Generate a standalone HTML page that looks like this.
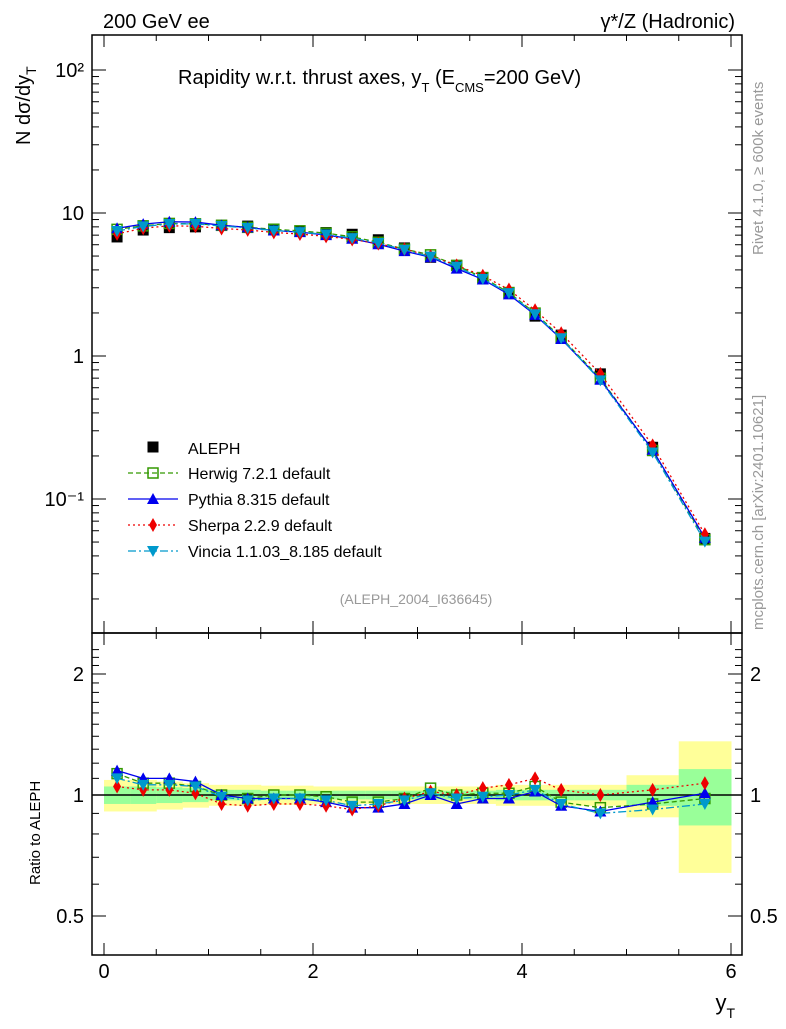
<!DOCTYPE html>
<html><head><meta charset="utf-8"><style>
body{margin:0;background:#fff;width:786px;height:1024px;overflow:hidden}
svg text{font-family:"Liberation Sans",sans-serif}
</style></head><body>
<svg id="c" width="786" height="1024" xmlns="http://www.w3.org/2000/svg"></svg>
<script>
const binEdges=[0,0.25,0.5,0.75,1,1.25,1.5,1.75,2,2.25,2.5,2.75,3,3.25,3.5,3.75,4,4.25,4.5,5,5.5,6];
const aleph=[6.8,7.6,7.9,8.0,8.2,8.1,7.7,7.5,7.3,7.1,6.5,5.7,4.9,4.3,3.5,2.75,1.9,1.4,0.75,0.23,0.053];
const herwigR=[1.13,1.07,1.07,1.05,1.0,0.98,1.0,1.0,0.99,0.96,0.96,0.98,1.04,1.0,1.01,1.01,1.05,0.96,0.93,0.95,0.98];
const pythiaR=[1.15,1.10,1.10,1.08,1.0,0.98,0.98,0.98,0.96,0.93,0.93,0.95,1.0,0.95,0.98,0.98,1.02,0.94,0.91,0.96,1.01];
const sherpaR=[1.05,1.03,1.03,1.01,0.95,0.94,0.95,0.95,0.94,0.92,0.94,0.98,1.02,1.0,1.04,1.06,1.10,1.03,1.0,1.03,1.07];
const vinciaR=[1.10,1.06,1.06,1.05,0.99,0.97,0.98,0.98,0.97,0.94,0.95,0.97,1.01,0.98,0.99,1.0,1.03,0.95,0.90,0.92,0.95];
const yellowErr=[0.09,0.09,0.08,0.07,0.06,0.06,0.055,0.055,0.05,0.05,0.05,0.05,0.05,0.05,0.05,0.06,0.06,0.06,0.06,0.12,0.36];
const greenErr=[0.05,0.05,0.045,0.04,0.03,0.03,0.025,0.025,0.025,0.025,0.025,0.025,0.025,0.025,0.025,0.03,0.03,0.03,0.03,0.06,0.16];
const xTicks=[0,2,4,6];
const mainTicks=[0.1,1,10,100];
const mainTickLabels=["10\u207B\u00B9","1","10","10\u00B2"];
const ratioTicks=[0.5,1,2];

const S=document.getElementById('c'),NS='http://www.w3.org/2000/svg';
function el(t,a,p){const e=document.createElementNS(NS,t);for(const k in a)e.setAttribute(k,a[k]);(p||S).appendChild(e);return e;}
const L=92,R=742,T=35,MB=633,RB=955;
const X=v=>104+v*104.5;
const Ym=v=>356-Math.log10(v)*143;
const Yr=v=>795-Math.log2(v)*121;
const mid=binEdges.slice(0,-1).map((e,i)=>(e+binEdges[i+1])/2);

const gb=el('g',{});
for(let i=0;i<mid.length;i++){
 const x0=X(binEdges[i]),x1=X(binEdges[i+1]);
 let r=el('rect',{x:x0,y:Yr(1+yellowErr[i]),width:x1-x0+0.5,height:Yr(1-yellowErr[i])-Yr(1+yellowErr[i]),fill:'#ffff99'},gb);
 
 r=el('rect',{x:x0,y:Yr(1+greenErr[i]),width:x1-x0+0.5,height:Yr(1-greenErr[i])-Yr(1+greenErr[i]),fill:'#99ff99'},gb);
 
}
el('line',{x1:L,x2:R,y1:Yr(1),y2:Yr(1),stroke:'#000','stroke-width':1.5});

el('rect',{x:L,y:T,width:R-L,height:MB-T,fill:'none',stroke:'#000','stroke-width':1.5});
el('rect',{x:L,y:MB,width:R-L,height:RB-MB,fill:'none',stroke:'#000','stroke-width':1.5});

for(let v=0;v<=6.01;v+=0.5){const big=Math.abs(v-Math.round(v/2)*2)<1e-6;const len=big?12:6;
 for(const [y0,y1] of [[T,MB],[MB,RB]]){el('line',{x1:X(v),x2:X(v),y1:y1,y2:y1-len,stroke:'#000'});el('line',{x1:X(v),x2:X(v),y1:y0,y2:y0+len,stroke:'#000'});}}
xTicks.forEach(v=>{const t=el('text',{x:X(v),y:978,'font-size':20,'text-anchor':'middle'});t.textContent=v;});
for(let d=-2;d<=2;d++)for(let m=1;m<10;m++){const v=m*Math.pow(10,d);const y=Ym(v);if(y<T||y>MB)continue;const len=m==1?14:7;
 el('line',{x1:L,x2:L+len,y1:y,y2:y,stroke:'#000'});el('line',{x1:R,x2:R-len,y1:y,y2:y,stroke:'#000'});}
mainTicks.forEach((v,i)=>{const t=el('text',{x:84,y:Ym(v)+7,'font-size':20,'text-anchor':'end'});t.textContent=mainTickLabels[i];});
for(let v=0.5;v<=2.4;v+=0.1){const y=Yr(v);if(y<MB||y>RB)continue;const big=[0.5,1,2].some(q=>Math.abs(q-v)<1e-6);const len=big?14:7;
 el('line',{x1:L,x2:L+len,y1:y,y2:y,stroke:'#000'});el('line',{x1:R,x2:R-len,y1:y,y2:y,stroke:'#000'});}
ratioTicks.forEach(v=>{let t=el('text',{x:84,y:Yr(v)+7,'font-size':20,'text-anchor':'end'});t.textContent=v;
 t=el('text',{x:750,y:Yr(v)+7,'font-size':20});t.textContent=v;});

function marker(g,type,x,y,col){
 if(type=='sq')el('rect',{x:x-5,y:y-5,width:10,height:10,fill:'none',stroke:col,'stroke-width':1.5},g);
 else if(type=='bsq')el('rect',{x:x-5.5,y:y-5.5,width:11,height:11,fill:col},g);
 else if(type=='up')el('polygon',{points:`${x},${y-6} ${x-6},${y+5} ${x+6},${y+5}`,fill:col},g);
 else if(type=='dn')el('polygon',{points:`${x},${y+6} ${x-6},${y-5} ${x+6},${y-5}`,fill:col},g);
 else if(type=='di')el('polygon',{points:`${x},${y-7} ${x-4},${y} ${x},${y+7} ${x+4},${y}`,fill:col},g);
}
const series=[
 {name:'herwig',r:herwigR,col:'#339900',dash:'5,3',m:'sq',label:'Herwig 7.2.1 default'},
 {name:'pythia',r:pythiaR,col:'#0000ee',dash:'',m:'up',label:'Pythia 8.315 default'},
 {name:'sherpa',r:sherpaR,col:'#ee0000',dash:'2,3',m:'di',label:'Sherpa 2.2.9 default'},
 {name:'vincia',r:vinciaR,col:'#0099cc',dash:'8,3,2,3',m:'dn',label:'Vincia 1.1.03_8.185 default'}];
const ga=el('g',{});
aleph.forEach((v,i)=>marker(ga,'bsq',X(mid[i]),Ym(v),'#000'));
series.forEach(s=>{
 const g=el('g',{});
 const pm=mid.map((x,i)=>X(x)+','+Ym(aleph[i]*s.r[i])).join(' ');
 el('polyline',{points:pm,fill:'none',stroke:s.col,'stroke-width':1.3,'stroke-dasharray':s.dash},g);
 const pr=mid.map((x,i)=>X(x)+','+Yr(s.r[i])).join(' ');
 el('polyline',{points:pr,fill:'none',stroke:s.col,'stroke-width':1.3,'stroke-dasharray':s.dash},g);
 mid.forEach((x,i)=>{marker(g,s.m,X(x),Ym(aleph[i]*s.r[i]),s.col);marker(g,s.m,X(x),Yr(s.r[i]),s.col);});
});
const lg=el('g',{});
marker(lg,'bsq',153,447,'#000');let t=el('text',{x:188,y:454,'font-size':16},lg);t.textContent='ALEPH';
series.forEach((s,i)=>{const y=473+i*26;
 el('line',{x1:128,x2:178,y1:y,y2:y,stroke:s.col,'stroke-width':1.3,'stroke-dasharray':s.dash},lg);
 marker(lg,s.m,153,y,s.col);
 const tt=el('text',{x:188,y:y+6,'font-size':16},lg);tt.textContent=s.label;});
function txt(x,y,s,fs,extra,name){const e=el('text',Object.assign({x:x,y:y,'font-size':fs},extra||{}));e.innerHTML=s;return e;}
txt(103,28,'200 GeV ee',20,{},'top-left-label');
txt(735,28,'γ*/Z (Hadronic)',20,{'text-anchor':'end'},'process-label');
txt(178,84,'Rapidity w.r.t. thrust axes, y<tspan font-size="13" dy="8">T</tspan><tspan dy="-8"> (E</tspan><tspan font-size="13" dy="8">CMS</tspan><tspan dy="-8">=200 GeV)</tspan>',20,{},'plot-title');
txt(416,604,'(ALEPH_2004_I636645)',14,{fill:'#999','text-anchor':'middle'},'analysis-id');
txt(735,1010,'y<tspan font-size="14" dy="8">T</tspan>',22,{'text-anchor':'end'},'x-axis-title');
txt(30,145,'N  dσ/dy<tspan font-size="14" dy="6">T</tspan>',20,{transform:'rotate(-90 30 145)'},'y-axis-title');
txt(40,885,'Ratio to ALEPH',15,{transform:'rotate(-90 40 885)'},'ratio-axis-title');
txt(763,255,'Rivet 4.1.0, ≥ 600k events',15,{fill:'#999',transform:'rotate(-90 763 255)'},'rivet-label');
txt(763,630,'mcplots.cern.ch [arXiv:2401.10621]',15,{fill:'#999',transform:'rotate(-90 763 630)'},'mcplots-label');
</script>
</body></html>
